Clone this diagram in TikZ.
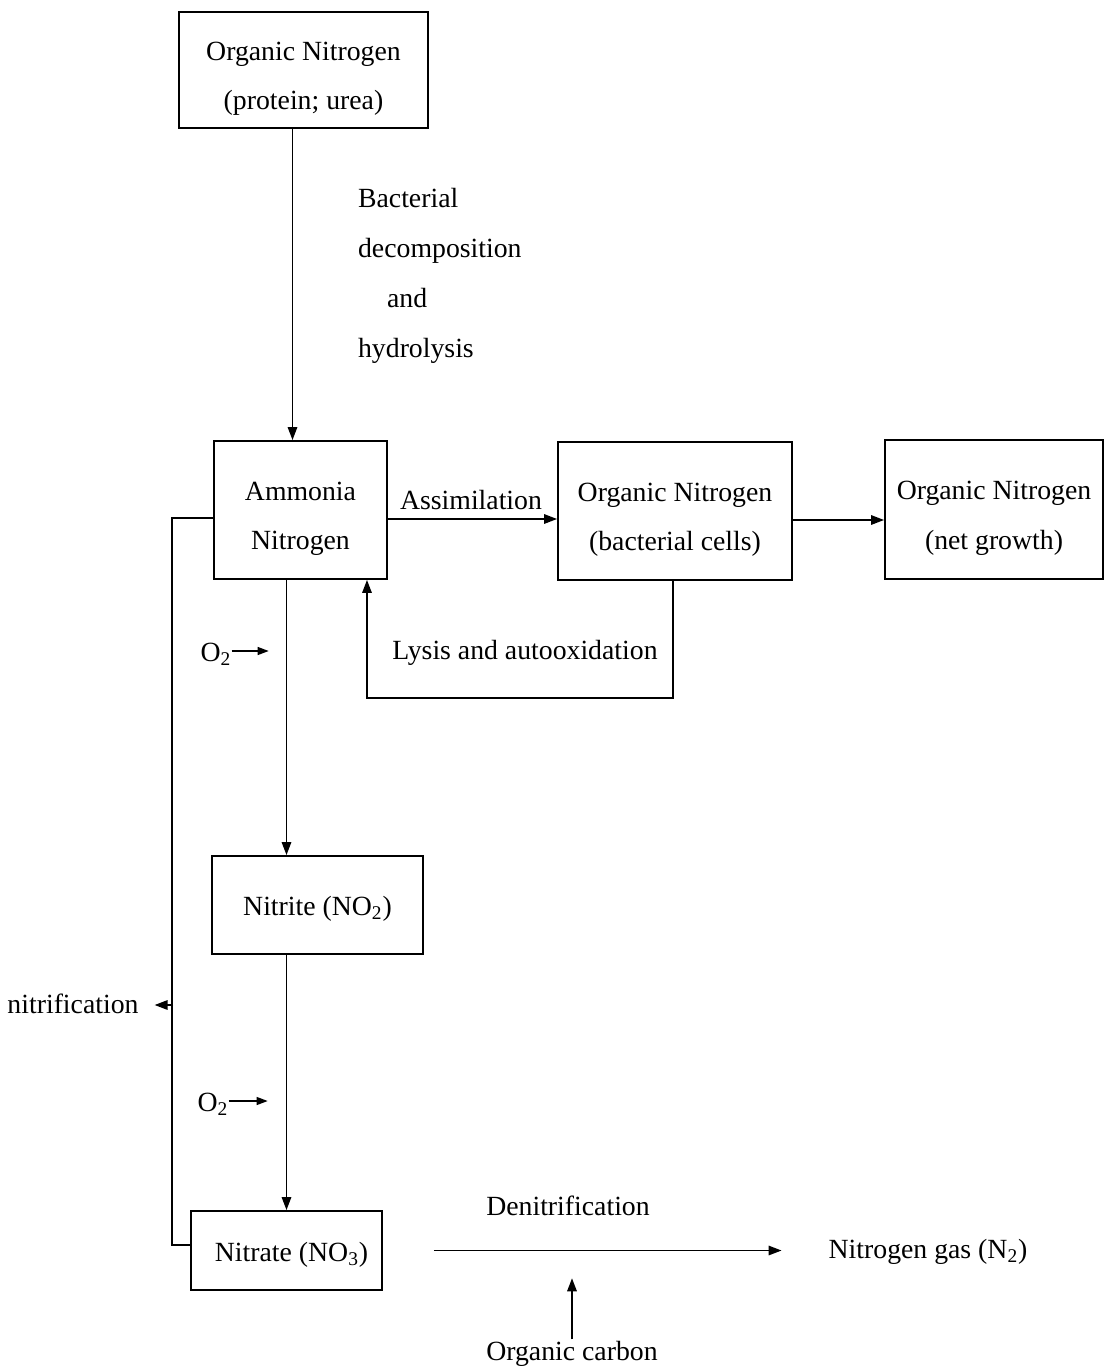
\documentclass[tikz,border=0pt]{standalone}
\usepackage{fontspec}
\setmainfont{Liberation Serif}
\usetikzlibrary{arrows.meta,positioning,calc}
\newcommand{\cyclefont}{\fontsize{15.8}{28.4}\selectfont}
\newcommand{\topgap}[1]{\rule{0pt}{#1}}
\tikzset{
  nbox/.style={
    rectangle, draw=black, line width=1.1pt, align=center,
    inner sep=0pt, font=\cyclefont},
  lbl/.style={inner sep=1pt, font=\cyclefont},
  flowline/.style={line width=0.9pt},
  arrowline/.style={-{Triangle[length=2.6mm,width=1.9mm]}, line width=0.9pt},
  smallarrow/.style={-{Triangle[length=2.2mm,width=1.6mm]}, line width=0.7pt}
}

\begin{document}
\begin{tikzpicture}[x=0.02cm, y=-0.02cm]
    \useasboundingbox (0,0) rectangle (1105,1369);

    % ---- boxes ---------------------------------------------------
    \node[nbox, minimum width=4.98cm, minimum height=2.32cm] (orgn)
        at (303.5,70) {\topgap{0.72cm}Organic Nitrogen\\(protein; urea)};
    \node[nbox, minimum width=3.46cm, minimum height=2.76cm] (ammonia)
        at (300.5,510) {\topgap{0.72cm}Ammonia\\Nitrogen};
    \node[nbox, minimum width=4.68cm, minimum height=2.76cm] (cells)
        at (675,511) {\topgap{0.72cm}Organic Nitrogen\\(bacterial cells)};
    \node[nbox, minimum width=4.36cm, minimum height=2.78cm] (growth)
        at (994,509.5) {\topgap{0.72cm}Organic Nitrogen\\(net growth)};
    \node[nbox, minimum width=4.22cm, minimum height=1.96cm] (nitrite)
        at (317.5,905) {\topgap{0.52cm}Nitrite (NO\textsubscript{2})};
    \node[nbox, minimum width=3.82cm, minimum height=1.58cm] (nitrate)
        at (286.5,1250.5) {\topgap{0.56cm}\hspace*{0.2cm}Nitrate (NO\textsubscript{3})};

    % ---- labels --------------------------------------------------
    \node[lbl, anchor=west, align=left] (decomp) at (356,276)
        {Bacterial\\decomposition\\\hspace*{0.58cm}and\\hydrolysis};
    \node[lbl] (assim) at (471,500) {Assimilation};
    \node[lbl] (lysis) at (525,653) {Lysis and autooxidation};
    \node[lbl, inner sep=0pt] (o2a) at (216,654) {O\textsubscript{2}};
    \node[lbl, inner sep=0pt] (o2b) at (213,1104) {O\textsubscript{2}};
    \node[lbl] (nitri) at (73,1004) {nitrification};
    \node[lbl] (denit) at (568,1206) {Denitrification};
    \node[lbl] (ngas) at (928,1252) {Nitrogen gas (N\textsubscript{2})};
    \node[lbl] (carbon) at (572,1354) {Organic carbon};
    \coordinate (loopjoin) at (173,1005);

    % ---- main chain ----------------------------------------------
    \draw[arrowline] ([xshift=-0.22cm]orgn.south)
        -- ([xshift=-0.22cm]orgn.south |- ammonia.north);
    \draw[arrowline] ([yshift=-0.18cm]ammonia.east)
        -- ([yshift=-0.18cm]ammonia.east -| cells.west);
    \draw[arrowline] ([yshift=-0.18cm]cells.east)
        -- ([yshift=-0.18cm]cells.east -| growth.west);
    \draw[arrowline] ([xshift=-0.04cm]cells.south) -- ++(0,-2.34cm)
        -| ([xshift=1.33cm]ammonia.south);

    % ---- nitrification -------------------------------------------
    \draw[arrowline] (ammonia.south -| nitrate.north) -- (nitrite.north -| nitrate.north);
    \draw[arrowline] (nitrite.south -| nitrate.north) -- (nitrate.north);
    \draw[smallarrow] ([yshift=0.06cm]o2a.east) -- ++(0.74cm,0);
    \draw[smallarrow] ([yshift=0.06cm]o2b.east) -- ++(0.78cm,0);
    \draw[flowline] ([yshift=-0.16cm]ammonia.west) -- ++(-0.82cm,0)
        |- ([yshift=0.11cm]nitrate.west);
    \draw[arrowline] (loopjoin) -- ([xshift=0.28cm]nitri.east |- loopjoin);

    % ---- denitrification -----------------------------------------
    \draw[arrowline] ([xshift=1.02cm]nitrate.east)
        -- ([xshift=-0.9cm]ngas.west |- nitrate.east);
    \draw[arrowline] (carbon.north) -- ++(0,1.22cm);

\end{tikzpicture}
\end{document}
